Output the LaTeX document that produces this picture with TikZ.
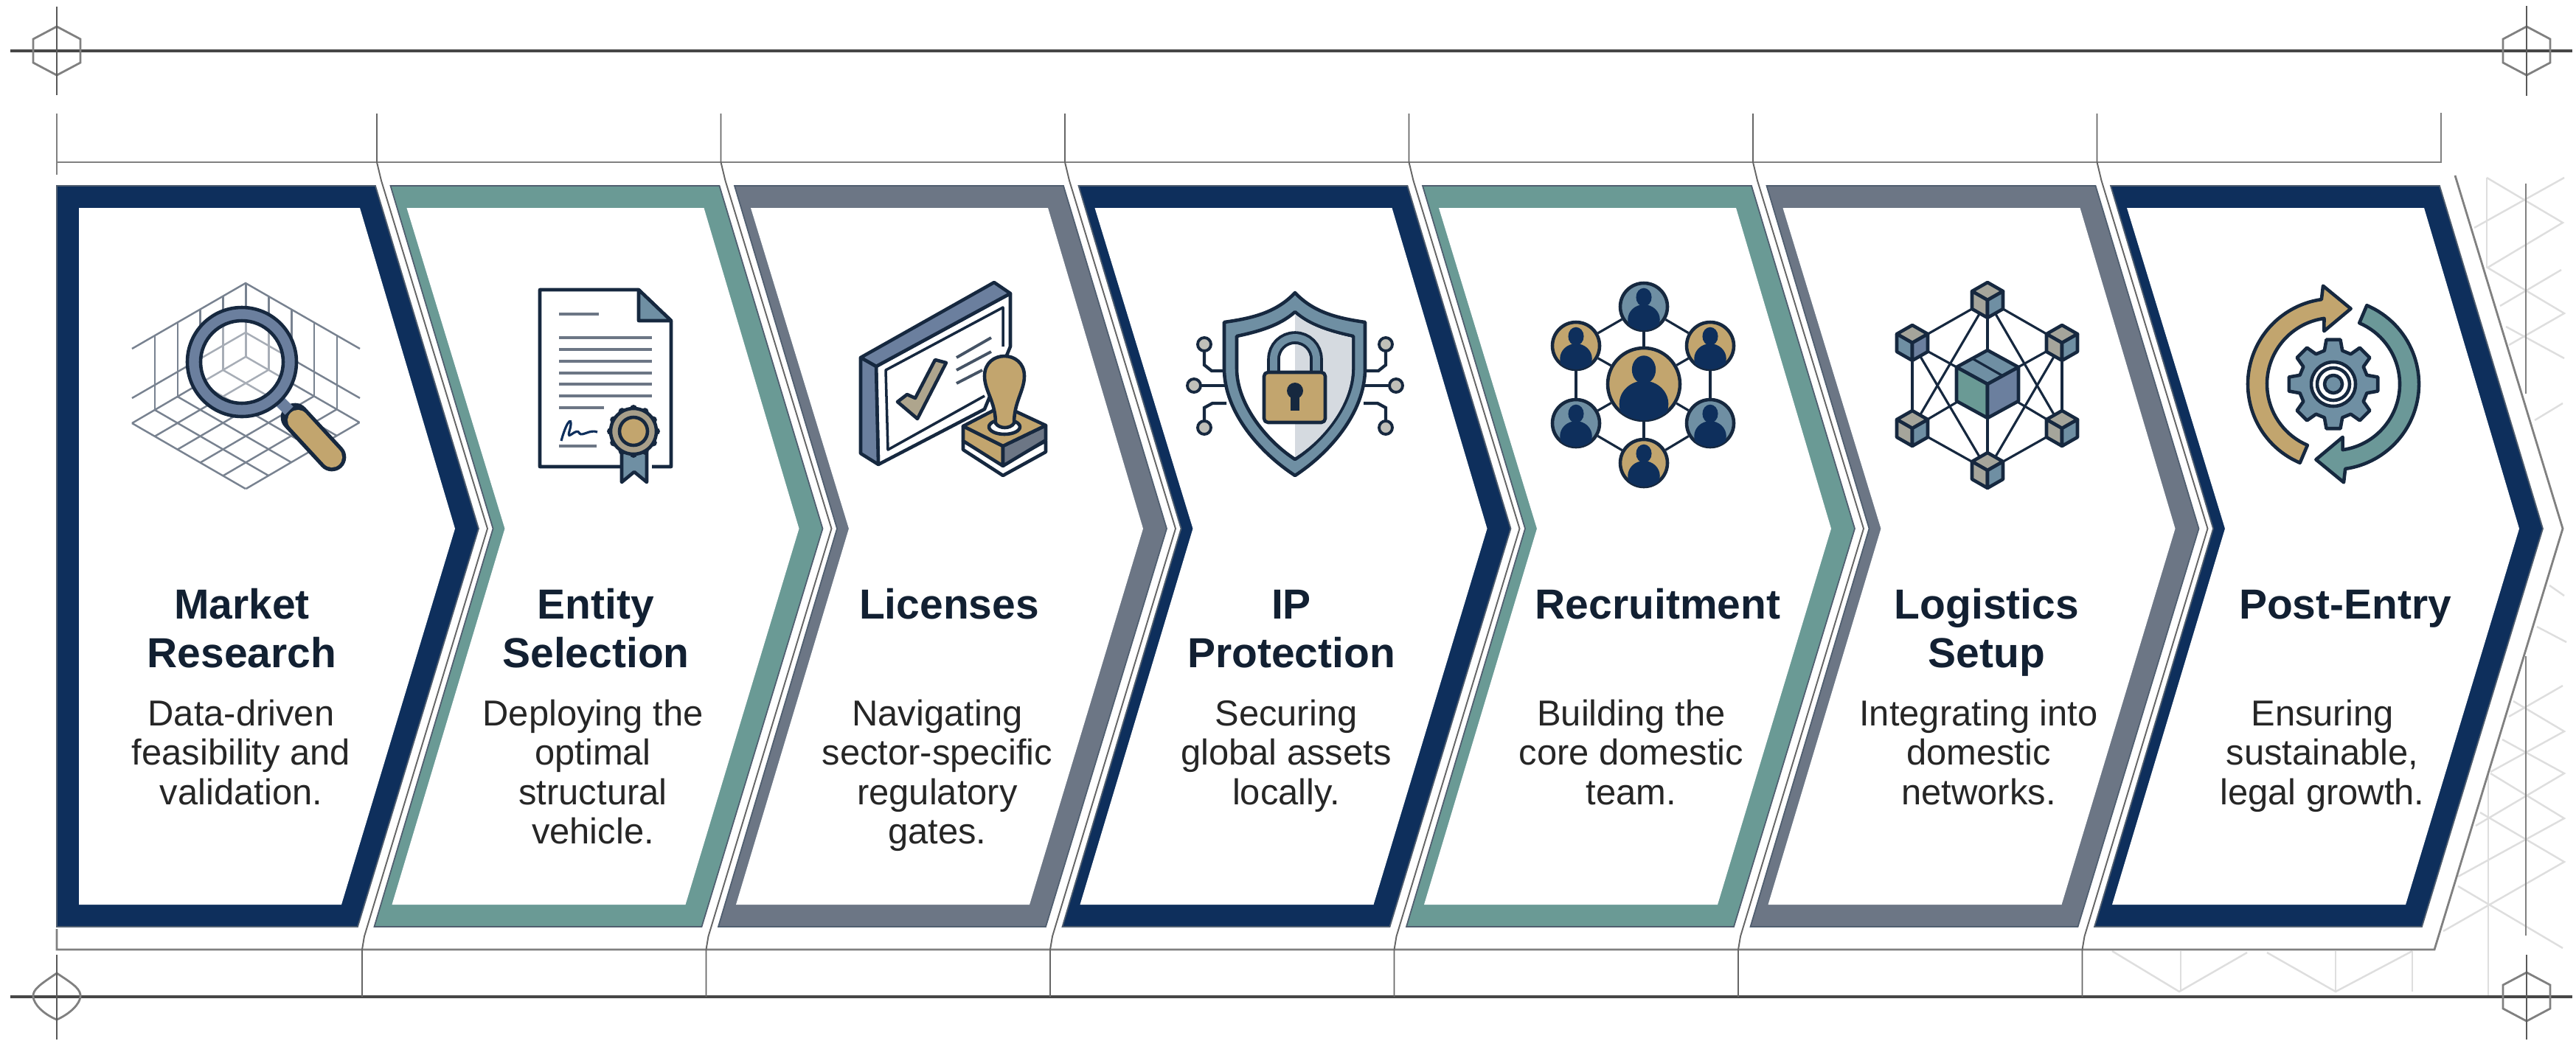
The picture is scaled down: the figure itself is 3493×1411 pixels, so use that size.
\documentclass[tikz,border=0pt]{standalone}
\usepackage{fontspec}
\setmainfont{Liberation Sans}
\usepackage{tikz}

\definecolor{navybar}{HTML}{0E2F5C}
\definecolor{tealbar}{HTML}{6A9A95}
\definecolor{slatebar}{HTML}{6C7685}
\definecolor{ink}{HTML}{16283F}
\definecolor{steel}{HTML}{6F8FA3}
\definecolor{ringblue}{HTML}{6B7F9E}
\definecolor{tanfill}{HTML}{C2A56E}
\definecolor{stone}{HTML}{A5A59B}
\definecolor{paleshade}{HTML}{D5DAE0}
\definecolor{sealfill}{HTML}{A89F8A}

\tikzset{
	chevfill/.style={fill=#1, draw=ink!75, line width=0.5pt, line join=miter},
	hairline/.style={draw=black!60, line width=0.55pt},
	rulemain/.style={draw=black!72, line width=1.05pt},
	rulesub/.style={draw=black!50, line width=0.8pt},
	lattice/.style={draw=black!13, line width=0.7pt},
	icon/.style={draw=ink, line width=1.3pt, line join=round},
	gridline/.style={draw=ink!58, line width=0.7pt},
	txtline/.style={draw=slatebar, line width=1.1pt},
	titletext/.style={anchor=north, inner sep=0pt, align=center, text=ink!80!black, font=\fontsize{16.2}{18.8}\selectfont\bfseries},
	bodytext/.style={anchor=north, inner sep=0pt, align=center, text=black!85, font=\fontsize{13.9}{15.2}\selectfont},
	person/.style={circle, draw=ink, line width=1.3pt, inner sep=0pt, minimum size=#1},
	netline/.style={draw=ink, line width=0.9pt}
}

\newcommand{\netcube}[7]{
	\draw[icon, fill=#5] (#1,#2-#4) -- (#1+#3,#2-#4/2) -- (#1,#2) -- (#1-#3,#2-#4/2) -- cycle;
	\draw[icon, fill=#6] (#1-#3,#2-#4/2) -- (#1,#2) -- (#1,#2+#4) -- (#1-#3,#2+#4/2) -- cycle;
	\draw[icon, fill=#7] (#1+#3,#2-#4/2) -- (#1,#2) -- (#1,#2+#4) -- (#1+#3,#2+#4/2) -- cycle;
}

\begin{document}
\begin{tikzpicture}[x=0.01cm, y=-0.01cm]
	\useasboundingbox (0,0) rectangle (3493,1411);

	% LATTICE
	\draw[lattice] (3372,241) -- (3475,302) -- (3373,363) -- (3477,425) -- (3402,468);
	\draw[lattice] (3477,241) -- (3355,309);
	\draw[lattice] (3473,366) -- (3390,415);
	\draw[lattice] (3398,443) -- (3477,486);
	\draw[lattice] (3475,547) -- (3437,570);
	\draw[lattice] (3457,794) -- (3477,808);
	\draw[lattice] (3440,850) -- (3480,871);
	\draw[lattice] (3408,951) -- (3477,992) -- (3377,1047);
	\draw[lattice] (3475,930) -- (3402,972);
	\draw[lattice] (3393,1003) -- (3477,1049) -- (3357,1120);
	\draw[lattice] (3377,1049) -- (3477,1110) -- (3333,1189);
	\draw[lattice] (3363,1102) -- (3477,1169) -- (3313,1263);
	\draw[lattice] (3333,1202) -- (3475,1286);
	\draw[lattice] (2864,1290) -- (2955,1345) -- (3047,1292);
	\draw[lattice] (3074,1292) -- (3167,1345) -- (3271,1290);
	\draw[lattice] (3372,241) -- (3372,363);
	\draw[lattice] (3374,1047) -- (3374,1350);
	\foreach \x in {2957,3167,3271}
	\draw[lattice] (\x,1290) -- (\x,1345);
	\draw[rulesub] (3425,249) -- (3425,534);
	\draw[rulesub] (3425,890) -- (3425,1269);

	% RULES
	\draw[rulemain] (14,69) -- (3488,69);
	\draw[rulemain] (14,1352) -- (3488,1352);
	\draw[rulesub] (3310,153) -- (3310,220) -- (77,220);
	\draw[rulesub] (77,154) -- (77,237);
	\draw[rulesub] (77,1260) -- (77,1288) -- (3301,1288) -- (3475,717) -- (3329,238);

	% Corner marks
	\foreach \cx/\cy in {77/69, 3426/69, 3426/1352}
	\draw[rulesub] (\cx,\cy-33) -- (\cx+32,\cy-16) -- (\cx+32,\cy+16) -- (\cx,\cy+33) -- (\cx-32,\cy+16) -- (\cx-32,\cy-16) -- cycle;
	\draw[rulesub] (77,1320) .. controls (100,1335) and (110,1342) .. (109,1352) .. controls (108,1362) and (95,1375) .. (77,1383) .. controls (58,1375) and (46,1362) .. (45,1352) .. controls (44,1342) and (55,1335) .. (77,1320) -- cycle;
	\foreach \cx/\ya/\yb in {77/9/129, 3426/8/130, 77/1295/1410, 3426/1295/1410}
	\draw[rulesub, draw=black!65] (\cx,\ya) -- (\cx,\yb);

	% Separators
	\foreach \i in {0,...,5}
	\draw[hairline, shift={(466.5*\i,0)}] (511,154) -- (511,220) -- (517,245) -- (661,717) -- (494,1270) -- (491,1288) -- (491,1352);

	% Chevrons
	\fill[chevfill=navybar] (77,252) -- (509,252) -- (649,717) -- (485,1257) -- (77,1257) -- cycle;
	\fill[white] (107,282) -- (488,282) -- (617,717) -- (463,1227) -- (107,1227) -- cycle;
	\foreach \i/\col in {1/tealbar, 2/slatebar, 3/navybar, 4/tealbar, 5/slatebar, 6/navybar}{
		\begin{scope}[shift={(466.5*\i,0)}]
			\draw[chevfill=\col] (63,252) -- (509,252) -- (649,717) -- (485,1257) -- (41,1257) -- (202,717) -- cycle;
			\fill[white] (85,282) -- (488,282) -- (617,717) -- (463,1227) -- (65,1227) -- (218,717) -- cycle;
		\end{scope}
	}

	% Text
	\foreach \nm/\tx/\ttl/\bx/\bdy in {
		market/328/{Market\\Research}/327/{Data-driven\\feasibility and\\validation.},
		entity/808/{Entity\\Selection}/804/{Deploying the\\optimal\\structural\\vehicle.},
		licenses/1287/{Licenses}/1271/{Navigating\\sector-specific\\regulatory\\gates.},
		protection/1751/{IP\\Protection}/1744/{Securing\\global assets\\locally.},
		recruitment/2248/{Recruitment}/2212/{Building the\\core domestic\\team.},
		logistics/2694/{Logistics\\Setup}/2683/{Integrating into\\domestic\\networks.},
		postentry/3180/{Post-Entry}/3149/{Ensuring\\sustainable,\\legal growth.}}{
		\node[titletext] (title-\nm) at (\tx,792) {\strut\ttl};
		\node[bodytext] (body-\nm) at (\bx,946) {\strut\bdy};
	}

	% Icon 1 magnifier
	\foreach \t in {0,...,5}{
		\draw[gridline] (179+30.9*\t,574+17.8*\t) -- (333+30.9*\t,484+17.8*\t);
		\draw[gridline] (179+30.9*\t,574-18*\t) -- (333+30.9*\t,663-18*\t);
	}
	\draw[gridline] (179,473) -- (333,384) -- (488,473);
	\draw[gridline] (179,540) -- (333,451) -- (488,540);
	\foreach \t in {1,...,9}{
		\pgfmathsetmacro{\vx}{179+30.9*\t}
		\pgfmathsetmacro{\vy}{abs(\vx-333)*0.578}
		\draw[gridline] (\vx,384+\vy) -- (\vx,484+\vy);
	}
	\fill[white, opacity=0.35] (328,491) circle[radius=56];
	\draw[line width=11pt, draw=ink, line cap=round] (400,566) -- (450,620);
	\draw[line width=8pt, draw=tanfill, line cap=round] (404,570) -- (450,620);
	\draw[line width=4.5pt, draw=ringblue] (380,545) -- (392,557);
	\draw[icon, fill=ringblue, even odd rule] (328,491) circle[radius=74] (328,491) circle[radius=56];

	% Icon 2 document
	\draw[icon, fill=white] (842,633) -- (732,633) -- (732,393) -- (866,393) -- (910,435) -- (910,633) -- (884,633);
	\draw[icon, fill=steel] (866,393) -- (910,435) -- (866,435) -- cycle;
	\draw[txtline] (758,426) -- (812,426);
	\foreach \y in {458,474,490,506,521,537}
	\draw[txtline] (758,\y) -- (884,\y);
	\draw[txtline] (758,553) -- (819,553);
	\draw[txtline] (758,605) -- (809,605);
	\draw[draw=navybar, line width=0.9pt] (761,598) .. controls (770,565) and (778,565) .. (772,585) .. controls (768,600) and (782,578) .. (786,588) .. controls (790,592) and (800,582) .. (810,586);
	\draw[icon, fill=steel] (843,600) -- (843,654) -- (860,640) -- (877,654) -- (877,600) -- cycle;
	\foreach \a in {0,30,...,330}
	\fill[ink] (859,585) +(\a:31) circle[radius=5];
	\draw[icon, fill=sealfill] (859,585) circle[radius=31];
	\draw[icon, fill=tanfill] (859,585) circle[radius=19];

	% Icon 3 frame and stamp
	\draw[icon, fill=white] (1188,497) -- (1370,398) -- (1370,470) -- (1335,555) -- (1191,630) -- cycle;
	\draw[icon, fill=ringblue] (1167,485) -- (1348,383) -- (1370,398) -- (1188,497) -- cycle;
	\draw[icon, fill=ringblue] (1167,485) -- (1188,497) -- (1191,630) -- (1167,615) -- cycle;
	\draw[icon, line width=1pt] (1335,537) -- (1204,610) -- (1201,502) -- (1360,417) -- (1360,470);
	\draw[icon, fill=stone!70!tanfill] (1217,545) -- (1244,568) -- (1283,492) -- (1268,488) -- (1241,540) -- (1230,535) -- cycle;
	\draw[txtline, draw=ink!80] (1297,485) -- (1344,458);
	\draw[txtline, draw=ink!80] (1297,502) -- (1344,477);
	\draw[txtline, draw=ink!80] (1297,520) -- (1332,502);
	\draw[icon, fill=white] (1306,598) -- (1360,630) -- (1418,598) -- (1418,613) -- (1360,645) -- (1306,610) -- cycle;
	\draw[icon, fill=tanfill] (1306,578) -- (1360,605) -- (1360,632) -- (1306,598) -- cycle;
	\draw[icon, fill=slatebar] (1360,605) -- (1418,577) -- (1418,597) -- (1360,632) -- cycle;
	\draw[icon, fill=tanfill] (1306,578) -- (1360,550) -- (1418,577) -- (1360,605) -- cycle;
	\draw[icon, fill=white] (1362,579) ellipse[x radius=21, y radius=10];
	\draw[icon, fill=tanfill] (1350,574) .. controls (1350,545) and (1335,530) .. (1335,510) .. controls (1335,474) and (1389,474) .. (1389,510) .. controls (1389,530) and (1375,545) .. (1375,574) .. controls (1370,582) and (1355,582) .. (1350,574) -- cycle;

	% Icon 4 shield
	\draw[icon, fill=steel] (1756,397) .. controls (1730,425) and (1695,432) .. (1660,437) -- (1660,500) .. controls (1660,560) and (1710,615) .. (1756,645) .. controls (1802,615) and (1851,560) .. (1851,500) -- (1851,437) .. controls (1817,432) and (1782,425) .. (1756,397) -- cycle;
	\draw[icon, fill=white] (1756,423) .. controls (1735,442) and (1705,450) .. (1677,456) -- (1677,500) .. controls (1677,550) and (1720,600) .. (1756,623) .. controls (1792,600) and (1835,550) .. (1835,500) -- (1835,456) .. controls (1807,450) and (1777,442) .. (1756,423) -- cycle;
	\fill[paleshade] (1756,426) .. controls (1777,444) and (1807,452) .. (1833,458) -- (1833,500) .. controls (1833,550) and (1792,598) .. (1756,620) -- cycle;
	\draw[draw=ink, line width=5pt] (1727,510) -- (1727,487) arc[start angle=180, end angle=360, radius=29] -- (1785,510);
	\draw[draw=steel, line width=2.8pt] (1727,510) -- (1727,487) arc[start angle=180, end angle=360, radius=29] -- (1785,510);
	\draw[icon, fill=tanfill, rounded corners=1.5pt] (1714,505) rectangle (1797,573);
	\fill[ink] (1756,530) circle[radius=11];
	\fill[ink] (1750,532) -- (1762,532) -- (1762,557) -- (1750,557) -- cycle;
	\draw[netline, line width=1.2pt] (1619,523) -- (1663,523);
	\draw[netline, line width=1.2pt] (1633,467) -- (1633,495) -- (1643,503) -- (1660,503);
	\draw[netline, line width=1.2pt] (1633,580) -- (1633,553) -- (1644,547) -- (1663,547);
	\draw[netline, line width=1.2pt] (1893,523) -- (1849,523);
	\draw[netline, line width=1.2pt] (1879,467) -- (1879,495) -- (1869,503) -- (1851,503);
	\draw[netline, line width=1.2pt] (1879,580) -- (1879,553) -- (1868,547) -- (1849,547);
	\foreach \cx/\cy in {1633/467, 1619/523, 1633/580, 1879/467, 1893/523, 1879/580}
	\draw[icon, line width=1.1pt, fill=stone!70] (\cx,\cy) circle[radius=9];

	% Icon 5 people
	\foreach \pname/\cx/\cy/\rr/\col in {phub/2229/521/49/tanfill, ptop/2229/416/32/steel, pul/2137/469/32/tanfill, pur/2319/469/32/tanfill, pll/2137/574/32/steel, plr/2319/574/32/steel, pbot/2229/628/32/tanfill}{
		\node[person={2*\rr*0.01cm}, fill=\col] (\pname) at (\cx,\cy) {};
		\begin{scope}
			\clip (\cx,\cy) circle[radius=\rr];
			\fill[navybar] (\cx,\cy-0.40*\rr) ellipse[x radius=0.33*\rr, y radius=0.39*\rr];
			\fill[navybar] (\cx,\cy+0.55*\rr) ellipse[x radius=0.68*\rr, y radius=0.64*\rr];
		\end{scope}
	}
	\foreach \pa/\pb in {ptop/pul, ptop/pur, pul/pll, pur/plr, pll/pbot, plr/pbot, phub/ptop, phub/pul, phub/pur, phub/pll, phub/plr, phub/pbot}
	\draw[netline] (\pa) -- (\pb);

	% Icon 6 cubes
	\coordinate (ntop) at (2695,407);
	\coordinate (nul) at (2593,465);
	\coordinate (nur) at (2796,465);
	\coordinate (nll) at (2593,581);
	\coordinate (nlr) at (2796,581);
	\coordinate (nbot) at (2695,638);
	\coordinate (nhub) at (2695,521);
	\foreach \na/\nb in {ntop/nul, ntop/nur, nul/nll, nur/nlr, nll/nbot, nlr/nbot, ntop/nbot, ntop/nll, ntop/nlr, nbot/nul, nbot/nur, nhub/nul, nhub/nur, nhub/nll, nhub/nlr}
	\draw[netline] (\na) -- (\nb);
	\netcube{2695}{407}{21}{24}{stone}{stone}{steel}
	\netcube{2593}{465}{21}{24}{stone}{steel}{ringblue}
	\netcube{2796}{465}{21}{24}{stone}{stone}{steel}
	\netcube{2593}{581}{21}{24}{stone}{stone}{steel}
	\netcube{2796}{581}{21}{24}{stone}{stone}{steel}
	\netcube{2695}{638}{21}{24}{stone}{stone}{steel}
	\netcube{2695}{521}{42}{46}{steel}{tealbar}{ringblue}
	\draw[netline] (2674,486) -- (2716,510);

	% Icon 7 cycle and gear
	\begin{scope}[shift={(3164,521)}]
		\draw[icon, fill=tanfill] (113:116) arc[start angle=113, end angle=262, radius=116] -- (264:134) -- (283:105) -- (260:73) -- (262:90) arc[start angle=262, end angle=113, radius=90] -- cycle;
		\draw[icon, fill=tealbar!80!steel] (293:116) arc[start angle=293, end angle=442, radius=116] -- (444:134) -- (463:105) -- (440:73) -- (442:90) arc[start angle=442, end angle=293, radius=90] -- cycle;
		\draw[icon, fill=steel] (-9:61) \foreach \a in {0,45,...,315}{ -- (\a-9:61) -- (\a+9:61) -- (\a+15:47) -- (\a+30:47) } -- cycle;
		\draw[icon, fill=white] (0,0) circle[radius=30];
		\draw[icon, fill=white] (0,0) circle[radius=22];
		\draw[icon, fill=steel] (0,0) circle[radius=12];
	\end{scope}
\end{tikzpicture}
\end{document}
